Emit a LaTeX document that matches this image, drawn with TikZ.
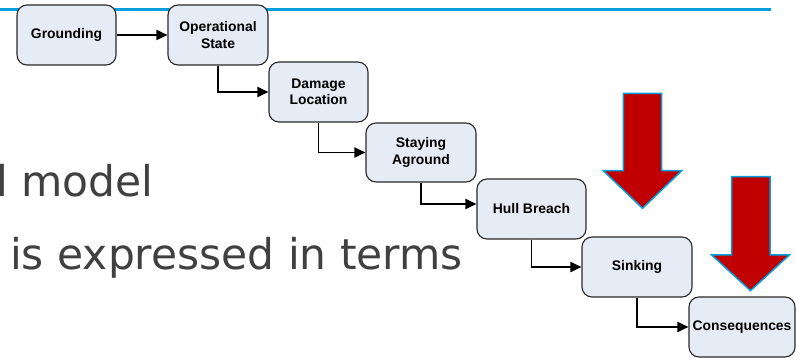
\documentclass[tikz,border=0pt]{standalone}
\usepackage{fontspec}
\setmainfont{Liberation Sans}
\newfontfamily\bigfont{DejaVu Sans}
\usetikzlibrary{arrows.meta}
\definecolor{boxfill}{RGB}{230,236,246}
\definecolor{boxline}{RGB}{40,40,40}
\definecolor{rulecol}{RGB}{0,160,224}
\definecolor{arrowred}{RGB}{192,0,0}
\definecolor{textgray}{RGB}{64,64,64}
\begin{document}
\begin{tikzpicture}[x=1pt,y=-1pt,
  stepbox/.style={draw=boxline, line width=1.1pt, fill=boxfill, rounded corners=10pt,
    minimum height=60pt, align=center, inner sep=2pt,
    font=\fontsize{13.9}{16.5}\selectfont\bfseries},
  link/.style={line width=1.8pt, -{Triangle[length=11pt,width=10pt]}},
  bigarrow/.style={fill=arrowred, draw=rulecol, line width=1.5pt, line join=miter},
  bigtext/.style={anchor=base west, inner sep=0pt, text=textgray,
    font=\bigfont\fontsize{42.4}{50}\selectfont}]
\useasboundingbox (0,0) rectangle (796,358);
\clip (0,0) rectangle (796,358);
\draw[rulecol, line width=2.7pt] (0,9.7) -- (771,9.7);
\node[bigtext] (t1) at (-4,197) {l model};
\node[bigtext] (t2) at (10,270) {is expressed in terms};
\node[stepbox, minimum width=99pt]  (g)  at (66.5,35)  {Grounding};
\node[stepbox, minimum width=100pt] (os) at (218,35)   {Operational\\State};
\node[stepbox, minimum width=99pt]  (dl) at (318.5,92) {Damage\\Location};
\node[stepbox, minimum width=110pt, minimum height=59pt] (sa) at (421,152.5) {Staying\\Aground};
\node[stepbox, minimum width=109pt] (hb) at (531.5,209) {Hull Breach};
\node[stepbox, minimum width=110pt] (sk) at (637,267)  {Sinking};
\node[stepbox, minimum width=106pt] (cq) at (742,327)  {Consequences};
\draw[link] (g) -- (os);
\draw[link] (os.south) |- (dl.west);
\draw[link] (dl.south) |- (sa.west);
\draw[link] (sa.south) |- ([yshift=5pt]hb.west);
\draw[link] (hb.south) |- (sk.west);
\draw[link] (sk.south) |- (cq.west);
\draw[bigarrow] (623.3,93.3) -- (661.7,93.3) -- (661.7,170.7) -- (681.7,170.7)
  -- (642.5,208.3) -- (603.3,170.7) -- (623.3,170.7) -- cycle;
\draw[bigarrow] (731.7,176.7) -- (770,176.7) -- (770,255) -- (789.3,255)
  -- (750.5,290.7) -- (711.7,255) -- (731.7,255) -- cycle;
\end{tikzpicture}
\end{document}
